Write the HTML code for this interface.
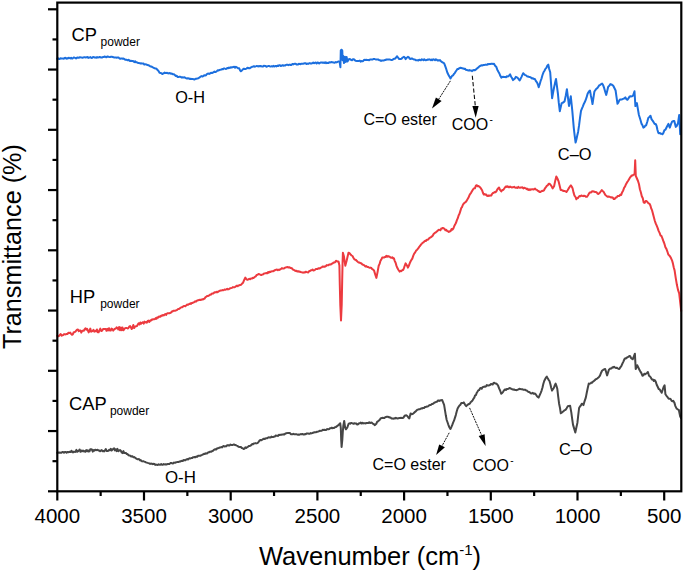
<!DOCTYPE html>
<html><head><meta charset="utf-8"><style>
html,body{margin:0;padding:0;background:#fff;}
svg{display:block;}
</style></head><body>
<svg width="685" height="572" viewBox="0 0 685 572">
<rect width="685" height="572" fill="#fff"/>
<polyline points="57.3,58.7 58.1,58.3 58.9,59.0 59.7,58.9 60.5,58.3 61.4,58.5 62.2,58.4 63.0,58.6 63.8,58.7 64.6,57.9 65.4,57.8 66.2,58.7 67.0,58.2 67.8,58.5 68.7,57.7 69.5,58.1 70.3,58.4 71.1,57.8 71.9,58.6 72.7,58.5 73.5,57.5 74.3,57.5 75.2,58.0 76.0,58.4 76.8,57.7 77.6,57.5 78.4,57.8 79.2,57.7 80.0,57.2 80.8,57.4 81.7,57.6 82.5,57.7 83.3,57.4 84.1,57.3 84.9,57.3 85.7,57.5 86.6,57.3 87.4,57.0 88.2,57.9 89.0,57.5 89.8,57.6 90.6,57.1 91.4,57.9 92.3,57.8 93.1,56.9 93.9,57.1 94.7,57.5 95.5,57.5 96.3,57.7 97.1,57.1 98.0,57.6 98.8,57.4 99.6,56.9 100.4,57.2 101.2,57.5 102.0,57.5 102.8,57.1 103.7,57.1 104.5,56.5 105.3,56.7 106.1,57.3 106.9,56.8 107.7,56.5 108.6,56.9 109.4,57.1 110.2,57.0 111.0,56.8 111.8,56.8 112.7,57.0 113.5,57.2 114.3,57.6 115.2,57.5 116.0,57.5 116.8,57.7 117.7,57.4 118.5,57.5 119.4,58.4 120.2,58.8 121.0,58.5 121.9,58.4 122.7,58.7 123.5,58.5 124.4,59.1 125.2,59.8 126.0,59.8 126.8,59.8 127.7,60.3 128.5,59.8 129.3,60.4 130.2,61.1 131.0,60.8 131.8,60.9 132.7,60.9 133.5,61.4 134.3,62.1 135.1,61.2 136.0,62.3 136.8,62.2 137.6,62.8 138.5,63.1 139.3,63.1 140.1,63.4 140.9,63.3 141.8,63.6 142.6,63.6 143.4,63.4 144.3,64.5 145.1,64.4 145.9,64.2 146.7,64.8 147.6,65.0 148.4,65.2 150.0,66.2 150.9,66.4 151.9,66.8 152.9,67.4 153.8,67.8 154.7,68.3 155.7,68.6 156.6,68.8 157.6,70.1 158.5,70.9 159.5,72.8 160.4,72.9 161.4,73.2 162.3,74.0 163.5,73.4 164.7,72.6 165.5,73.1 166.3,73.1 167.1,72.8 168.0,73.3 169.0,73.4 169.9,73.0 170.9,73.7 171.8,73.5 172.8,74.3 173.7,74.2 174.7,74.8 175.6,75.9 176.6,75.7 177.5,76.9 178.5,77.0 179.4,76.8 180.4,76.7 181.4,77.4 182.3,77.3 183.2,77.4 184.2,77.3 185.1,77.6 186.1,78.3 187.0,78.5 187.9,78.2 188.9,78.4 189.8,79.0 190.8,78.8 191.7,78.9 192.7,78.9 193.6,79.3 194.6,79.5 195.6,78.7 196.5,78.7 197.4,78.4 198.4,78.2 200.0,77.1 200.8,76.4 201.7,76.1 202.6,76.6 203.4,75.9 204.2,75.2 205.1,75.4 205.9,75.3 206.8,74.1 207.6,73.8 208.5,73.6 209.3,73.9 210.2,73.4 211.0,72.7 211.9,73.0 212.8,72.7 213.6,72.2 214.4,71.6 215.3,72.1 216.2,71.6 217.0,71.0 217.8,70.3 218.7,70.5 219.6,69.9 220.4,69.7 221.3,69.6 222.1,69.1 223.0,69.2 223.8,68.4 224.7,68.5 225.6,69.0 226.4,68.7 227.3,67.9 228.1,68.3 229.0,67.5 229.8,68.0 230.7,67.3 231.6,67.6 232.4,67.2 233.3,67.0 234.2,66.8 235.1,67.7 235.9,66.8 236.8,67.3 238.0,68.2 239.2,68.3 240.1,70.3 240.9,71.3 241.9,70.4 242.9,69.3 243.9,68.7 245.0,68.9 245.8,68.9 246.6,68.6 247.4,67.7 249.0,68.3 249.8,68.2 250.6,67.6 251.5,67.1 252.3,66.8 253.1,66.6 253.9,66.2 254.7,66.7 255.6,66.4 256.4,66.1 257.2,66.0 258.0,66.5 258.8,66.1 259.7,66.3 260.5,66.0 261.3,66.2 262.2,66.6 263.0,66.6 263.9,65.7 264.7,65.9 265.6,66.0 266.4,66.7 267.2,66.5 268.1,66.0 268.9,65.9 269.8,66.4 270.6,66.6 271.5,66.2 272.4,66.6 273.2,65.9 274.1,66.5 274.9,66.2 275.8,65.9 276.6,66.4 277.4,65.6 278.3,66.0 279.1,65.3 280.0,65.3 280.8,66.1 281.7,65.6 282.5,65.2 283.3,65.7 284.2,65.4 285.0,65.6 285.8,65.0 286.6,64.8 287.4,64.7 288.3,65.2 289.1,64.8 289.9,64.6 290.7,65.0 291.5,64.9 292.4,64.0 293.2,64.4 294.0,63.9 294.8,63.8 295.6,63.8 296.5,64.6 297.3,64.4 298.1,64.4 298.9,63.8 299.7,64.1 300.6,64.2 301.4,63.7 302.2,63.8 303.1,63.8 303.9,63.4 304.8,63.2 305.6,63.3 306.4,64.0 307.3,63.6 308.1,63.9 309.0,63.4 309.8,63.1 310.7,63.6 311.5,63.6 312.4,63.2 313.2,62.6 314.1,63.3 314.9,62.7 315.8,62.6 316.6,63.5 317.5,62.5 318.4,62.7 319.2,63.5 320.1,62.8 320.9,62.4 321.8,62.5 322.6,62.8 323.4,62.5 324.2,63.0 325.1,62.3 325.9,63.1 326.7,62.5 327.5,63.1 328.4,63.0 329.2,62.3 330.0,62.5 331.1,62.1 332.3,62.2 333.5,62.5 334.7,62.8 335.7,62.1 336.6,62.4 337.6,61.9 338.6,61.4 339.6,61.9 340.4,67.2 340.8,50.3 341.7,49.7 342.3,50.8 342.6,60.2 343.1,55.8 344.0,63.1 344.9,56.7 345.8,61.9 346.6,57.0 347.5,61.6 348.7,59.3 349.9,59.1 351.0,59.9 352.0,60.2 352.9,59.3 353.9,59.3 354.8,60.2 355.7,60.8 356.9,60.9 358.0,61.1 358.9,60.9 359.8,60.6 360.6,61.6 361.5,61.1 362.4,61.3 363.2,61.0 364.1,59.8 365.0,59.9 366.2,59.7 367.4,60.1 368.3,60.0 369.1,60.2 370.0,59.4 370.9,59.4 371.9,59.5 372.8,59.4 373.8,58.9 374.7,59.1 375.6,59.4 376.5,59.4 377.5,59.5 378.4,59.6 379.3,60.3 380.2,60.2 381.1,60.9 381.9,60.5 382.8,60.6 383.7,60.5 384.6,60.1 385.5,60.1 386.4,59.4 387.3,59.4 388.2,59.4 389.2,59.5 390.1,59.6 391.0,59.9 391.8,60.0 392.6,59.8 393.5,59.0 394.3,58.8 395.1,58.7 396.1,57.5 397.1,56.2 398.1,57.7 399.2,59.1 400.4,59.0 401.5,58.7 402.7,57.5 403.9,56.8 404.8,57.5 405.6,59.1 406.8,57.7 408.0,56.8 408.9,57.3 409.7,58.7 410.6,58.9 411.4,58.5 412.3,58.6 413.2,59.1 414.1,59.5 414.9,59.5 415.8,60.3 416.7,60.3 417.5,60.2 418.4,60.5 419.2,59.7 420.1,60.0 420.9,60.2 421.8,59.3 422.6,59.7 423.4,60.2 424.3,59.3 425.1,60.0 425.9,60.2 426.7,60.1 427.6,59.5 428.4,59.7 429.2,59.3 430.1,59.7 430.9,60.2 431.7,59.5 432.5,60.1 433.4,59.3 434.2,59.7 435.0,60.2 435.9,59.3 436.7,59.7 437.5,60.4 438.3,60.3 439.2,60.5 440.0,60.1 440.9,61.2 441.8,61.9 442.6,62.5 443.5,62.7 444.4,63.8 445.4,66.6 446.3,69.2 447.3,72.5 448.4,74.7 449.4,76.6 450.5,78.4 451.4,77.0 452.2,75.7 453.0,75.6 453.9,74.0 454.8,73.1 455.7,71.5 456.6,70.2 457.5,68.9 458.5,68.9 459.4,68.1 460.4,67.8 461.3,68.0 462.2,68.2 463.2,68.4 464.1,68.9 465.0,68.7 465.9,69.8 466.8,69.9 467.7,70.3 468.6,70.5 469.5,70.1 470.3,70.6 471.2,70.5 472.1,71.1 473.0,70.3 474.0,70.1 474.9,70.3 475.8,69.6 476.7,68.7 477.6,67.9 478.5,67.3 479.4,66.4 480.3,65.8 481.2,65.3 482.0,65.5 482.9,65.2 483.8,64.9 484.6,64.9 485.5,64.6 486.3,64.8 487.1,64.7 487.9,64.0 488.8,64.2 489.6,64.1 490.5,64.0 491.4,63.7 492.2,63.8 493.1,63.9 494.0,63.8 495.1,65.7 496.2,66.7 497.3,69.7 498.4,71.8 499.4,73.5 500.3,75.8 501.3,77.6 502.2,76.9 503.1,76.8 504.1,77.1 505.0,76.9 506.0,77.2 506.9,76.3 507.9,76.6 509.0,75.7 510.1,74.3 511.1,76.7 512.0,78.0 513.0,80.1 514.0,79.2 514.9,78.4 515.9,76.9 517.4,77.6 518.5,78.9 519.6,80.5 520.5,78.9 521.4,77.1 522.3,75.1 523.2,73.2 524.2,74.3 525.1,75.1 526.1,75.4 527.1,76.4 528.0,76.5 529.0,76.9 530.0,77.0 531.0,77.6 532.0,78.4 533.0,78.3 533.9,78.9 534.9,79.1 536.0,81.2 537.1,82.7 537.9,84.5 538.7,87.3 539.7,84.3 540.6,81.0 541.6,78.3 542.5,75.0 543.5,72.3 544.5,70.8 545.4,68.9 546.4,67.9 547.3,65.6 548.3,64.6 549.2,69.0 550.2,72.3 551.2,85.6 552.1,98.3 553.0,93.1 554.0,87.7 555.0,83.1 556.0,79.0 557.0,86.7 557.9,93.5 558.8,102.9 559.8,111.2 560.8,106.8 561.7,103.1 562.7,102.8 563.6,102.2 564.6,101.2 565.8,95.4 566.9,89.2 568.0,97.8 569.0,106.0 569.9,101.1 570.8,96.3 572.3,110.8 573.8,128.1 574.7,135.8 575.6,142.5 576.4,139.5 577.3,135.3 578.1,131.9 579.1,125.2 580.0,117.8 581.0,110.8 582.0,108.3 582.9,106.3 583.8,103.9 584.8,102.1 585.8,99.7 586.7,96.9 587.7,93.5 588.9,91.6 590.0,90.6 590.8,95.2 591.7,99.4 592.5,104.0 593.5,97.3 594.4,91.5 595.4,90.1 596.3,88.8 597.3,88.2 598.3,86.7 599.2,85.4 600.2,84.8 601.1,84.2 602.1,83.5 603.2,85.3 604.2,88.2 605.2,91.7 606.2,94.9 607.2,90.9 608.2,86.7 609.3,85.8 610.4,84.1 611.4,84.4 612.4,85.1 613.4,86.0 614.5,88.3 615.6,90.5 616.5,96.9 617.5,103.8 618.4,102.4 619.2,100.6 620.1,99.4 621.1,99.4 622.0,99.4 623.0,98.9 624.1,98.5 625.3,97.4 626.4,99.1 627.5,99.8 628.6,98.1 629.7,96.4 630.5,96.2 631.4,96.4 632.2,96.2 633.0,95.7 634.5,91.2 635.4,106.1 636.9,103.1 637.9,109.1 638.9,115.0 639.8,117.8 640.7,120.7 641.6,123.9 642.5,125.3 643.4,127.6 644.3,127.2 645.2,125.7 646.1,125.4 647.2,122.0 648.3,118.0 649.4,116.9 650.5,115.7 651.6,119.4 652.8,120.9 653.8,122.5 654.7,124.0 655.7,123.9 656.6,126.0 657.4,129.8 658.3,132.8 659.1,133.3 659.9,132.9 660.8,133.7 661.6,133.7 662.4,134.3 663.4,132.9 664.4,130.1 665.4,129.8 666.4,127.7 667.4,125.7 668.4,123.9 669.8,127.6 671.0,124.2 672.1,121.7 673.2,121.1 674.3,120.9 675.8,126.9 676.9,125.7 678.0,123.2 679.2,115.0 680.2,134.3" fill="none" stroke="#1c6fde" stroke-width="2" stroke-linejoin="round" stroke-linecap="round"/>
<polyline points="57.3,335.8 58.2,336.2 59.0,336.0 59.9,334.7 60.7,334.1 61.6,335.7 62.4,335.3 63.3,335.0 64.1,334.0 65.0,334.5 65.8,334.3 66.7,333.9 67.6,333.9 68.5,332.7 69.3,333.1 70.2,332.6 71.1,333.8 72.0,334.8 72.8,334.4 73.7,332.2 74.5,332.2 75.4,331.7 76.2,330.7 77.1,329.6 77.9,329.4 78.8,331.2 79.6,330.4 80.5,330.5 81.3,332.6 82.2,330.9 83.0,330.6 83.8,330.8 84.6,329.3 85.4,328.3 86.2,329.6 87.0,328.7 87.8,330.3 88.7,332.4 89.5,330.9 90.3,328.6 91.1,331.7 91.9,331.2 92.7,330.9 93.5,329.8 94.3,331.7 95.2,331.1 96.0,331.3 96.9,329.5 97.7,332.3 98.6,332.3 99.4,330.4 100.3,328.6 101.2,331.0 102.2,330.5 103.1,329.1 104.0,329.0 104.8,329.1 105.7,328.9 106.5,330.8 107.3,328.9 108.2,330.4 109.0,328.2 109.8,330.5 110.7,330.6 111.5,328.6 112.4,329.1 113.2,330.6 114.0,329.7 114.9,328.7 115.7,328.7 116.6,327.4 117.4,327.8 118.3,329.4 119.1,327.0 120.0,330.3 120.8,327.4 121.7,330.2 122.5,327.5 123.4,330.3 124.2,329.2 125.1,328.2 125.9,328.1 126.8,328.0 127.6,328.5 128.4,328.1 129.2,326.7 130.1,326.1 130.9,327.3 131.7,329.0 132.5,327.5 133.3,325.0 134.2,328.1 135.0,326.6 136.0,326.3 137.0,326.0 138.0,324.2 138.8,323.2 139.6,324.4 140.4,322.5 141.2,323.7 142.1,322.6 142.9,322.3 143.7,323.6 144.5,321.6 145.3,322.4 146.1,322.1 146.9,322.7 147.7,320.9 148.5,320.6 149.3,321.9 150.1,320.6 150.9,320.7 151.7,319.6 152.5,319.7 153.3,319.2 154.1,319.3 154.9,319.1 155.7,318.1 156.5,318.8 157.3,317.3 158.1,317.8 158.9,316.6 159.7,316.5 160.5,316.8 161.3,315.6 162.1,315.7 162.9,315.0 163.7,315.4 164.5,314.7 165.3,314.0 166.1,314.9 166.9,313.6 167.7,313.2 168.5,313.3 169.3,313.3 170.1,312.9 170.9,312.8 171.7,311.6 172.5,311.5 173.3,310.7 174.1,310.8 175.0,310.8 175.8,310.4 176.6,310.2 177.4,309.6 178.2,308.9 179.0,309.0 179.8,308.4 180.6,307.8 181.4,307.2 182.2,307.3 183.0,306.6 183.8,306.0 184.6,306.0 185.4,306.2 186.2,305.4 187.0,304.6 187.8,304.9 188.6,304.3 189.4,304.1 190.2,303.4 191.0,304.0 191.8,302.9 192.6,303.0 193.4,302.4 194.2,302.2 195.0,301.3 195.8,301.7 196.6,300.9 197.4,300.5 198.2,300.2 199.1,300.1 199.9,299.7 200.7,300.0 201.5,299.6 202.3,299.3 203.1,299.4 203.9,298.9 204.7,298.5 205.5,297.1 206.3,296.8 207.1,296.1 207.9,296.0 208.7,295.6 209.5,295.3 210.3,294.5 211.1,294.5 211.9,293.6 212.7,293.5 213.5,293.4 214.3,292.5 215.1,292.2 215.9,292.4 216.7,291.7 217.5,292.2 218.3,291.6 219.1,291.1 219.9,290.7 220.7,290.5 221.5,290.4 222.4,290.1 223.2,290.2 224.0,289.9 224.8,289.5 225.6,289.7 226.4,289.3 227.2,288.7 228.0,289.4 228.8,289.2 229.6,288.7 230.4,288.2 231.2,288.1 232.0,287.9 232.8,287.1 233.6,287.3 234.4,287.2 235.2,286.9 236.1,286.2 236.9,285.7 237.7,286.2 238.5,285.4 239.4,285.3 240.2,284.9 241.2,284.7 242.1,283.6 243.1,282.7 244.2,279.9 245.3,277.6 246.4,279.3 247.5,279.8 248.4,279.4 249.3,278.7 250.1,279.3 251.0,278.4 251.9,278.6 252.9,277.8 253.8,277.9 254.8,276.9 255.7,276.4 256.6,274.9 257.6,274.7 258.5,274.0 259.5,274.3 260.4,274.7 261.4,275.1 262.2,274.4 263.1,274.5 263.9,273.5 264.8,273.4 265.6,273.2 266.5,273.0 267.3,273.3 268.1,272.0 268.9,272.6 269.7,271.7 270.6,271.9 271.4,271.4 272.2,271.2 273.0,271.3 273.8,270.8 274.6,270.5 275.4,269.9 276.2,269.7 277.0,269.5 277.9,270.2 278.7,269.7 279.5,269.9 280.3,269.3 281.1,268.9 281.9,268.1 282.8,268.6 283.6,268.5 284.4,268.2 285.2,267.7 286.1,267.3 286.9,267.2 287.7,267.0 288.6,267.6 289.5,267.3 290.4,267.9 291.3,268.1 292.1,268.5 293.0,269.6 293.8,269.9 294.7,270.5 295.5,270.9 296.4,270.7 297.2,271.4 298.1,271.2 298.9,271.7 299.8,271.6 300.6,272.0 301.5,272.2 302.3,272.4 303.2,272.7 304.0,272.3 304.9,272.6 305.7,271.7 306.6,272.0 307.4,272.2 308.3,272.4 309.2,271.0 310.0,271.0 310.9,270.2 311.8,270.3 312.6,269.6 313.5,270.4 314.3,270.3 315.1,269.7 315.9,268.9 316.8,268.9 317.6,268.9 318.4,268.3 319.3,268.5 320.1,268.2 320.9,267.6 321.7,267.4 322.6,266.5 323.4,266.7 324.2,266.5 325.0,266.7 325.9,266.2 326.7,265.1 327.5,265.3 328.4,265.3 329.2,264.5 330.0,264.5 330.8,264.6 331.6,263.7 332.5,263.5 333.3,262.8 334.1,262.5 335.1,262.2 336.2,260.7 337.2,261.4 338.3,261.5 338.6,261.8 339.4,265.5 339.8,285.0 340.3,305.0 341.0,320.5 341.7,305.0 342.2,280.0 342.6,262.0 342.9,252.7 343.9,256.2 345.3,265.7 346.7,260.4 347.6,256.6 348.5,252.7 349.5,253.2 350.6,254.5 351.6,255.5 352.5,256.0 353.4,257.7 354.2,259.1 355.1,259.7 356.0,260.0 356.9,261.1 357.7,261.8 358.6,262.5 359.5,262.6 360.5,263.2 361.4,263.2 362.2,264.4 363.0,264.7 363.9,265.1 364.7,265.8 365.5,266.6 366.4,266.1 367.2,266.9 368.0,267.0 368.8,267.4 369.7,267.8 370.5,267.6 371.4,268.0 372.2,269.1 373.1,269.6 374.0,270.4 375.2,274.4 376.4,277.9 377.5,272.4 378.7,265.8 379.6,263.9 380.4,261.1 381.3,259.6 382.2,257.6 383.0,257.6 383.9,257.6 384.7,257.1 385.5,257.1 386.3,255.9 387.2,256.8 388.0,256.0 388.8,256.6 389.7,256.8 390.5,257.5 391.4,257.8 392.2,257.2 393.1,258.4 393.9,258.3 394.8,261.1 395.6,262.8 396.5,265.9 397.4,268.1 398.5,270.0 399.7,271.6 400.6,270.8 401.4,271.2 402.3,270.0 403.2,270.0 404.0,267.9 404.8,265.5 405.6,263.4 406.8,265.2 407.9,267.6 408.8,265.8 409.6,263.7 410.5,261.5 411.4,259.9 412.3,258.6 413.3,255.7 414.2,253.7 415.2,252.4 416.1,250.6 416.9,250.0 417.8,248.8 418.6,247.9 419.4,246.6 420.2,245.8 421.1,244.4 421.9,243.6 422.7,242.7 423.5,242.4 424.4,241.3 425.2,240.7 426.0,241.0 426.8,239.7 427.6,239.8 428.5,239.2 429.3,238.2 430.1,237.7 431.0,237.1 431.9,236.4 432.7,235.7 433.6,234.0 434.5,233.2 435.4,232.7 436.2,232.0 437.1,231.2 437.9,230.5 438.8,229.7 439.6,229.9 440.4,230.2 441.2,228.6 442.1,228.4 442.9,227.9 443.7,228.3 444.6,228.9 445.4,230.3 446.3,229.8 447.1,231.0 448.0,231.3 448.8,231.9 449.7,231.3 450.6,231.2 451.6,229.0 452.5,229.7 453.4,228.4 454.3,226.0 455.1,224.6 456.0,222.8 456.9,220.2 457.8,218.2 458.6,215.4 459.5,213.8 460.4,210.9 461.2,208.2 462.0,207.2 462.8,205.0 463.7,203.6 464.7,202.7 465.6,202.2 466.6,200.9 467.5,199.2 468.4,197.8 469.3,195.6 470.3,193.8 471.2,192.6 472.1,191.0 473.0,189.4 474.0,188.3 474.9,188.3 475.9,185.7 476.8,185.2 477.7,186.3 478.6,186.1 479.4,186.7 480.3,187.5 481.2,188.9 482.1,190.2 482.9,192.7 483.8,194.5 484.6,194.1 485.5,194.7 486.3,194.6 487.1,195.9 487.9,196.1 488.8,195.4 489.6,195.7 490.4,195.5 491.3,195.5 492.1,193.9 493.0,193.0 493.8,192.7 494.7,192.1 495.5,192.2 496.4,191.3 497.2,189.6 498.1,188.4 499.0,187.5 500.1,190.0 501.3,191.5 502.2,190.0 503.2,190.0 504.1,188.7 505.1,187.2 506.0,186.4 506.8,187.0 507.6,186.2 508.5,187.2 509.3,187.3 510.1,186.6 510.9,187.0 511.7,187.5 512.6,187.2 513.4,187.2 514.2,186.8 515.0,187.6 515.8,187.8 516.7,187.5 517.5,188.0 518.3,186.9 519.1,187.6 520.0,187.8 520.8,187.4 521.6,187.5 522.4,187.3 523.3,188.4 524.1,187.7 524.9,188.0 525.8,188.3 526.6,189.2 527.5,188.7 528.3,190.0 529.1,189.3 530.0,190.1 530.9,189.3 531.7,189.4 532.5,189.2 533.4,189.6 534.2,189.3 535.1,188.6 536.0,189.6 536.9,189.9 537.7,190.7 538.6,191.0 539.5,192.0 540.4,192.1 541.3,191.3 542.1,190.8 543.0,191.0 543.9,190.5 545.0,188.3 546.1,186.9 547.0,185.6 547.8,185.3 548.7,183.7 549.5,183.7 550.4,184.7 551.5,186.1 552.6,188.4 554.1,186.2 555.2,180.9 556.3,176.4 557.4,178.5 558.5,181.1 559.6,185.5 560.7,190.1 561.7,190.1 562.6,190.5 563.6,191.0 564.6,191.0 565.5,191.4 566.5,192.0 567.6,190.3 568.7,188.4 569.8,186.7 570.9,185.4 571.8,186.7 572.6,188.4 573.5,192.4 574.5,195.7 575.5,197.0 576.4,199.3 577.2,198.0 578.0,198.1 578.8,196.7 579.6,196.0 580.5,196.3 581.4,195.4 582.2,195.8 583.1,196.2 584.0,195.7 585.0,195.9 585.9,196.8 586.9,196.8 587.9,195.5 588.9,193.7 589.9,192.4 590.9,192.6 591.8,191.5 592.8,191.3 593.8,191.5 594.7,191.9 595.7,192.0 596.7,192.4 597.6,193.7 598.6,193.9 599.7,192.8 600.7,191.5 601.8,190.1 602.8,191.1 603.7,192.0 604.7,193.9 605.6,195.3 606.6,196.0 607.5,196.7 608.5,196.5 609.4,196.7 610.3,197.1 611.2,197.5 612.1,197.3 612.9,197.7 613.8,199.1 614.7,198.9 615.7,197.5 616.6,197.5 617.6,196.0 618.5,195.9 619.4,195.9 620.3,194.7 621.2,194.9 622.2,192.2 623.2,190.4 624.2,187.6 625.0,186.7 626.0,184.2 627.0,182.4 628.0,181.0 628.9,179.4 629.9,177.7 630.8,176.6 631.7,175.5 632.6,175.5 633.5,174.6 634.6,174.2 635.2,160.2 635.8,176.0 636.5,177.5 638.0,181.0 639.0,184.3 639.9,189.2 640.9,192.5 641.8,196.2 642.8,198.3 643.7,202.6 644.7,202.9 645.6,201.1 646.6,201.1 647.5,202.2 648.5,203.4 649.5,203.7 650.4,205.5 651.2,208.4 652.1,210.4 652.9,213.5 653.8,217.0 654.8,220.7 655.7,223.4 656.7,225.7 657.7,228.1 658.6,230.9 659.6,232.9 660.6,235.6 661.5,236.0 662.5,238.6 663.5,241.5 664.4,243.7 665.4,247.3 666.4,248.9 667.3,251.3 668.3,254.5 669.2,255.4 670.1,256.5 671.1,258.3 672.0,260.3 672.9,263.4 673.7,267.3 674.6,270.4 675.8,278.3 676.9,284.8 678.0,289.9 679.2,293.4 680.2,302.5 681.2,310.8" fill="none" stroke="#ec3a3f" stroke-width="2" stroke-linejoin="round" stroke-linecap="round"/>
<polyline points="57.3,452.9 58.1,452.5 59.0,452.8 59.8,452.5 60.6,452.7 61.5,452.7 62.3,452.0 63.1,451.9 64.0,452.7 64.8,452.0 65.7,451.9 66.5,452.7 67.3,452.0 68.2,452.3 69.0,451.9 69.8,451.8 70.6,452.1 71.5,450.7 72.3,451.9 73.1,452.5 73.9,451.5 74.8,452.0 75.6,451.7 76.4,449.9 77.2,451.8 78.1,451.2 78.9,450.4 79.7,449.5 80.5,451.8 81.4,450.6 82.2,451.2 83.0,450.5 83.8,451.5 84.6,451.1 85.4,451.6 86.3,450.1 87.1,451.3 87.9,450.2 88.7,451.6 89.5,451.4 90.3,449.2 91.1,449.3 91.9,449.5 92.8,451.6 93.6,450.1 94.4,450.6 95.2,449.7 96.0,450.2 96.8,449.9 97.6,449.8 98.4,450.4 99.3,450.4 100.1,451.3 100.9,450.6 101.7,450.1 102.5,451.3 103.3,451.0 104.2,451.4 105.0,450.4 105.8,449.0 106.6,450.9 107.5,451.1 108.3,450.9 109.1,449.9 109.9,450.3 110.8,448.8 111.6,450.5 112.4,449.8 113.2,448.9 114.1,448.3 114.9,450.4 115.7,449.4 116.6,451.1 117.4,448.9 118.3,451.2 119.1,450.5 120.0,450.1 120.8,450.8 121.7,452.4 122.5,453.1 123.4,451.1 124.2,453.0 125.1,453.0 125.9,452.9 126.8,454.1 127.6,454.1 128.4,455.1 129.3,455.6 130.1,455.5 130.9,456.5 131.8,456.2 132.6,456.3 133.5,457.3 134.3,457.1 135.1,457.7 136.0,458.4 136.8,458.9 137.6,459.3 138.5,459.1 139.3,459.3 140.1,460.5 140.9,460.2 141.8,461.2 142.6,461.4 143.4,461.2 144.3,461.6 145.1,461.9 145.9,462.4 146.7,462.6 147.6,462.9 148.4,463.1 149.3,463.4 150.1,463.9 151.0,463.6 151.8,463.7 152.7,464.2 153.5,463.8 154.4,464.0 155.2,464.9 156.1,464.6 156.9,464.8 157.8,464.9 158.6,464.3 159.5,464.7 160.3,464.8 161.2,464.1 162.0,464.7 162.9,464.7 163.7,464.0 164.6,464.5 165.4,464.3 166.3,464.5 167.1,464.2 167.9,463.9 168.8,464.1 169.6,464.0 170.4,463.0 171.3,462.9 172.1,463.4 172.9,463.6 173.8,462.6 174.6,462.7 175.5,462.7 176.3,462.2 177.1,462.1 178.0,461.9 178.8,461.9 179.6,461.5 180.5,461.5 181.3,460.9 182.1,460.8 183.0,460.9 183.8,459.9 184.7,460.2 185.5,460.2 186.3,459.4 187.2,459.1 188.0,459.5 188.8,458.6 189.7,458.3 190.5,458.4 191.3,458.1 192.2,458.1 193.0,457.2 193.8,457.2 194.7,457.0 195.5,457.3 196.3,456.6 197.2,456.8 198.0,455.8 198.9,455.7 199.7,455.8 200.5,455.8 201.4,455.1 202.2,454.9 203.1,454.3 204.0,453.8 204.9,453.9 205.8,453.2 206.6,453.5 207.5,453.2 208.4,452.2 209.3,452.2 210.2,451.6 211.0,451.8 211.9,451.2 212.7,451.0 213.6,450.1 214.4,449.5 215.3,449.3 216.1,449.5 217.0,448.5 217.8,448.2 218.7,448.0 219.5,447.6 220.4,447.4 221.2,447.1 222.1,447.4 222.9,446.3 223.8,445.9 224.6,446.6 225.5,446.3 226.3,446.2 227.2,445.3 228.0,445.1 228.8,445.5 229.7,445.4 230.5,444.5 231.4,445.0 232.2,445.0 233.1,444.7 233.9,444.4 234.8,444.9 235.7,445.1 236.7,445.6 237.6,445.9 238.5,446.7 240.0,447.0 240.9,447.0 241.8,448.0 242.7,448.2 243.6,448.9 244.5,448.8 245.3,447.4 246.2,447.9 247.1,447.2 247.9,446.9 248.8,446.0 249.6,446.1 250.5,445.7 251.3,445.0 252.1,444.0 252.9,444.4 253.8,443.4 254.6,443.4 255.6,443.1 256.5,443.4 257.5,443.1 258.6,441.8 259.7,440.4 260.5,440.0 261.4,440.3 262.2,439.7 263.0,439.1 263.8,438.8 264.6,439.1 265.5,438.4 266.3,438.2 267.2,438.3 268.0,437.6 268.9,437.3 269.7,437.4 270.6,437.5 271.4,436.6 272.2,437.1 273.1,437.1 273.9,436.7 274.8,436.6 275.6,435.5 276.5,435.8 277.3,435.8 278.1,435.9 278.9,434.8 279.7,434.9 280.6,434.7 281.4,434.8 282.2,434.5 283.0,434.4 283.8,434.3 284.6,434.4 285.5,433.4 286.4,433.2 287.2,433.1 288.0,432.9 288.9,433.1 289.8,432.9 290.8,434.2 291.7,434.3 292.6,434.2 293.4,433.8 294.3,434.3 295.1,434.2 295.9,434.2 296.7,434.3 297.6,434.7 298.4,434.6 299.2,434.7 300.0,434.4 300.8,434.1 301.6,434.2 302.5,434.0 303.3,434.4 304.1,434.5 304.9,434.1 305.7,434.2 306.5,433.6 307.3,433.5 308.1,433.6 308.9,433.7 309.8,433.7 310.6,433.1 311.4,433.4 312.2,433.1 313.0,432.8 313.8,432.5 314.6,432.2 315.4,432.2 316.2,432.2 317.1,431.7 317.9,431.7 318.7,431.3 319.5,430.8 320.3,430.9 321.1,430.7 321.9,430.7 322.7,429.8 323.5,430.0 324.4,429.8 325.2,430.1 326.0,430.0 326.8,429.2 327.6,429.1 328.4,429.3 329.2,429.0 330.0,428.2 330.8,428.3 331.7,427.7 332.5,428.2 333.3,427.9 334.1,427.9 334.9,427.3 335.8,427.1 336.7,426.4 337.6,425.7 338.5,425.1 339.3,424.1 340.2,423.2 340.8,428.0 341.2,440.0 341.6,447.0 342.3,440.0 342.8,432.0 343.3,426.0 344.2,421.0 345.1,427.3 345.9,429.3 347.4,427.3 348.6,423.8 349.4,423.3 350.2,423.7 351.0,423.0 351.8,423.1 352.6,423.4 353.5,423.8 354.4,423.2 355.4,423.4 356.3,423.5 357.2,424.5 358.1,424.2 359.1,423.3 360.0,423.2 360.8,422.6 361.6,423.5 362.5,422.7 363.3,423.4 364.1,423.2 365.0,423.3 365.8,423.4 366.6,422.9 367.5,422.9 368.3,423.1 369.2,422.2 370.1,423.0 370.9,422.7 371.8,422.6 372.8,423.7 373.7,423.9 374.7,425.2 375.5,424.5 376.3,423.8 377.1,421.9 378.0,421.3 378.8,420.6 379.6,420.0 380.4,418.7 381.2,418.2 382.0,417.9 382.8,417.8 383.6,417.9 384.4,417.9 385.2,417.2 386.0,417.0 386.8,416.8 387.6,416.7 388.6,417.0 389.6,417.5 390.5,417.5 391.5,418.4 392.4,418.4 393.3,418.8 394.1,418.2 395.0,418.5 395.9,417.8 396.8,418.3 397.6,418.4 398.5,418.2 399.4,418.0 400.2,417.9 401.0,417.8 401.8,417.9 402.6,418.1 403.4,417.6 404.4,416.1 405.3,415.4 406.3,415.3 407.3,416.0 408.3,417.5 409.3,418.4 410.6,413.4 411.6,414.2 412.6,414.1 413.6,413.2 414.6,412.2 415.5,411.6 416.5,410.5 417.3,409.8 418.1,409.6 419.0,409.2 419.8,409.3 420.6,408.7 421.5,408.3 422.3,408.4 423.1,407.9 424.0,408.1 424.9,407.0 425.7,407.1 426.6,406.5 427.5,406.6 428.4,406.0 429.2,405.3 430.1,404.9 431.0,404.9 431.9,403.9 432.7,403.9 433.6,403.3 434.5,402.6 435.3,402.3 436.2,401.8 437.1,401.8 437.9,400.6 438.8,400.5 439.6,400.9 440.5,400.2 441.3,400.2 442.1,400.0 443.1,402.4 444.1,404.9 445.0,410.3 445.8,415.3 446.7,420.0 447.6,422.5 448.4,424.8 449.3,427.2 450.4,429.0 451.3,427.2 452.2,425.2 453.1,422.7 454.0,420.7 454.9,417.9 455.8,415.1 456.7,411.5 457.6,408.5 458.5,406.9 459.5,405.5 460.4,404.7 461.3,403.1 462.1,403.1 463.0,403.1 463.8,402.4 465.0,404.6 466.2,406.1 467.1,405.2 468.0,404.5 469.0,404.0 469.9,403.6 470.8,402.0 471.7,401.4 472.6,400.3 473.5,398.7 474.3,397.7 475.1,395.4 475.9,395.1 476.8,392.7 477.6,391.5 478.4,390.2 479.2,390.1 480.0,388.4 480.9,387.9 481.7,388.7 482.5,387.2 483.3,387.0 484.2,386.5 485.0,386.7 485.9,386.6 486.8,385.1 487.7,385.5 488.5,385.4 489.4,385.3 490.2,384.9 491.0,383.9 491.9,384.2 492.7,384.5 493.5,383.0 494.3,382.8 495.2,383.5 496.1,383.4 497.1,384.3 498.0,385.3 499.1,388.4 500.1,390.5 501.2,393.8 502.2,393.0 503.1,391.8 504.1,390.2 505.0,389.4 505.9,390.0 506.8,389.0 507.7,389.1 508.6,388.7 509.5,388.1 510.4,388.2 511.3,388.9 512.2,389.2 513.1,389.7 514.0,389.4 514.9,390.0 515.8,390.1 516.7,390.2 517.6,389.7 518.5,389.4 519.4,388.8 520.3,389.1 521.2,389.2 522.2,389.2 523.1,389.7 524.1,389.8 525.0,389.7 525.9,390.3 526.7,390.4 527.6,391.4 528.5,391.9 529.3,391.9 530.2,392.8 531.1,393.4 532.0,393.3 532.8,392.8 533.7,393.8 534.6,393.5 535.4,393.9 536.2,395.0 537.0,396.2 537.8,396.9 538.6,397.6 539.6,395.3 540.6,393.1 541.6,390.6 542.5,387.4 543.3,384.0 544.2,381.0 545.1,379.2 545.9,377.6 546.8,376.6 547.7,378.3 548.6,379.8 549.5,381.0 550.4,384.2 551.2,387.7 552.1,390.6 553.0,389.1 553.8,388.0 554.7,385.5 555.6,383.6 556.5,386.1 557.3,388.8 558.2,396.7 559.1,403.7 560.0,408.0 560.8,413.3 562.0,412.4 563.1,411.5 564.3,410.4 565.5,409.8 566.6,408.3 567.8,406.3 569.0,405.9 570.1,405.8 571.3,412.4 572.1,418.3 573.0,424.6 574.1,428.4 575.3,432.5 576.3,427.7 577.4,422.9 578.2,415.7 579.1,408.0 580.0,406.4 580.9,405.5 581.8,403.7 582.6,404.0 583.5,405.1 584.6,401.1 585.8,397.6 586.8,392.5 587.8,387.8 588.8,383.6 589.6,383.7 590.5,383.4 591.4,382.6 592.2,382.7 593.1,381.5 594.0,380.9 594.8,380.3 595.7,379.2 596.6,379.0 597.5,378.3 598.4,377.5 599.2,376.7 600.0,375.7 601.1,372.7 602.2,370.5 603.2,369.9 604.2,369.2 605.2,369.0 606.2,372.2 607.1,375.4 608.0,372.6 608.9,369.7 609.8,368.9 610.6,368.4 611.5,368.5 612.4,367.2 613.2,367.5 614.1,366.7 615.0,367.5 615.8,368.0 616.7,367.7 617.6,368.3 618.4,368.7 619.3,369.0 620.3,367.4 621.3,366.1 622.3,363.8 623.4,361.6 624.5,359.0 625.3,358.3 626.1,358.4 627.0,357.5 627.8,357.1 628.6,356.7 629.4,356.0 630.2,356.3 631.0,357.9 631.9,358.7 632.7,359.3 633.8,356.5 634.9,353.7 635.7,369.0 637.2,365.3 638.3,367.5 639.4,369.7 640.4,371.6 641.4,373.1 642.4,375.7 643.4,375.3 644.3,373.8 645.3,374.2 646.2,373.5 647.0,373.0 647.9,372.0 649.0,375.7 650.0,376.5 650.9,377.7 651.8,379.4 652.8,379.4 653.8,380.9 654.7,380.1 655.7,381.6 656.7,384.7 657.7,386.8 658.7,389.0 659.7,389.4 660.7,391.3 661.7,392.8 662.7,389.8 663.6,387.0 664.6,385.3 665.4,394.2 666.5,395.8 667.6,397.2 668.7,398.8 669.8,398.7 670.7,399.1 671.6,400.9 672.5,401.3 673.4,400.9 674.3,402.4 675.4,406.1 676.5,408.4 677.6,409.3 678.8,409.8 680.2,416.5 681.0,418.0" fill="none" stroke="#464646" stroke-width="2" stroke-linejoin="round" stroke-linecap="round"/>
<rect x="57.3" y="2.6" width="624.0" height="488.7" fill="none" stroke="#000" stroke-width="2.2"/>
<line x1="48" y1="491.30" x2="57.3" y2="491.30" stroke="#000" stroke-width="2.2"/>
<line x1="52.5" y1="461.18" x2="57.3" y2="461.18" stroke="#000" stroke-width="2.2"/>
<line x1="48" y1="431.05" x2="57.3" y2="431.05" stroke="#000" stroke-width="2.2"/>
<line x1="52.5" y1="400.93" x2="57.3" y2="400.93" stroke="#000" stroke-width="2.2"/>
<line x1="48" y1="370.80" x2="57.3" y2="370.80" stroke="#000" stroke-width="2.2"/>
<line x1="52.5" y1="340.68" x2="57.3" y2="340.68" stroke="#000" stroke-width="2.2"/>
<line x1="48" y1="310.55" x2="57.3" y2="310.55" stroke="#000" stroke-width="2.2"/>
<line x1="52.5" y1="280.43" x2="57.3" y2="280.43" stroke="#000" stroke-width="2.2"/>
<line x1="48" y1="250.30" x2="57.3" y2="250.30" stroke="#000" stroke-width="2.2"/>
<line x1="52.5" y1="220.18" x2="57.3" y2="220.18" stroke="#000" stroke-width="2.2"/>
<line x1="48" y1="190.05" x2="57.3" y2="190.05" stroke="#000" stroke-width="2.2"/>
<line x1="52.5" y1="159.93" x2="57.3" y2="159.93" stroke="#000" stroke-width="2.2"/>
<line x1="48" y1="129.80" x2="57.3" y2="129.80" stroke="#000" stroke-width="2.2"/>
<line x1="52.5" y1="99.68" x2="57.3" y2="99.68" stroke="#000" stroke-width="2.2"/>
<line x1="48" y1="69.55" x2="57.3" y2="69.55" stroke="#000" stroke-width="2.2"/>
<line x1="52.5" y1="39.43" x2="57.3" y2="39.43" stroke="#000" stroke-width="2.2"/>
<line x1="48" y1="9.30" x2="57.3" y2="9.30" stroke="#000" stroke-width="2.2"/>
<line x1="57.30" y1="491.3" x2="57.30" y2="500.5" stroke="#000" stroke-width="2.2"/>
<text x="57.30" y="523.4" font-family="Liberation Sans, sans-serif" font-size="20.5" text-anchor="middle" fill="#000">4000</text>
<line x1="100.65" y1="491.3" x2="100.65" y2="496" stroke="#000" stroke-width="2.2"/>
<line x1="144.00" y1="491.3" x2="144.00" y2="500.5" stroke="#000" stroke-width="2.2"/>
<text x="144.00" y="523.4" font-family="Liberation Sans, sans-serif" font-size="20.5" text-anchor="middle" fill="#000">3500</text>
<line x1="187.35" y1="491.3" x2="187.35" y2="496" stroke="#000" stroke-width="2.2"/>
<line x1="230.70" y1="491.3" x2="230.70" y2="500.5" stroke="#000" stroke-width="2.2"/>
<text x="230.70" y="523.4" font-family="Liberation Sans, sans-serif" font-size="20.5" text-anchor="middle" fill="#000">3000</text>
<line x1="274.05" y1="491.3" x2="274.05" y2="496" stroke="#000" stroke-width="2.2"/>
<line x1="317.40" y1="491.3" x2="317.40" y2="500.5" stroke="#000" stroke-width="2.2"/>
<text x="317.40" y="523.4" font-family="Liberation Sans, sans-serif" font-size="20.5" text-anchor="middle" fill="#000">2500</text>
<line x1="360.75" y1="491.3" x2="360.75" y2="496" stroke="#000" stroke-width="2.2"/>
<line x1="404.10" y1="491.3" x2="404.10" y2="500.5" stroke="#000" stroke-width="2.2"/>
<text x="404.10" y="523.4" font-family="Liberation Sans, sans-serif" font-size="20.5" text-anchor="middle" fill="#000">2000</text>
<line x1="447.45" y1="491.3" x2="447.45" y2="496" stroke="#000" stroke-width="2.2"/>
<line x1="490.80" y1="491.3" x2="490.80" y2="500.5" stroke="#000" stroke-width="2.2"/>
<text x="490.80" y="523.4" font-family="Liberation Sans, sans-serif" font-size="20.5" text-anchor="middle" fill="#000">1500</text>
<line x1="534.15" y1="491.3" x2="534.15" y2="496" stroke="#000" stroke-width="2.2"/>
<line x1="577.50" y1="491.3" x2="577.50" y2="500.5" stroke="#000" stroke-width="2.2"/>
<text x="577.50" y="523.4" font-family="Liberation Sans, sans-serif" font-size="20.5" text-anchor="middle" fill="#000">1000</text>
<line x1="620.85" y1="491.3" x2="620.85" y2="496" stroke="#000" stroke-width="2.2"/>
<line x1="664.20" y1="491.3" x2="664.20" y2="500.5" stroke="#000" stroke-width="2.2"/>
<text x="664.20" y="523.4" font-family="Liberation Sans, sans-serif" font-size="20.5" text-anchor="middle" fill="#000">500</text>
<text x="259" y="565" font-family="Liberation Sans, sans-serif" font-size="25.5" fill="#000">Wavenumber (cm<tspan font-size="15" dy="-10">-1</tspan><tspan dy="10">)</tspan></text>
<text transform="translate(20.5,349) rotate(-90)" x="0" y="0" font-family="Liberation Sans, sans-serif" font-size="25.2" fill="#000">Transmittance (%)</text>
<text transform="translate(71.6,41.1) scale(1.04,1)" font-family="Liberation Sans, sans-serif" font-size="17.6" fill="#000">CP</text><text x="100.6" y="46.1" font-family="Liberation Sans, sans-serif" font-size="12" fill="#000">powder</text>
<text transform="translate(69.8,303.4) scale(1.04,1)" font-family="Liberation Sans, sans-serif" font-size="17.6" fill="#000">HP</text><text x="100.2" y="308.4" font-family="Liberation Sans, sans-serif" font-size="12" fill="#000">powder</text>
<text transform="translate(69.0,409.6) scale(1.04,1)" font-family="Liberation Sans, sans-serif" font-size="17.6" fill="#000">CAP</text><text x="109.9" y="414.6" font-family="Liberation Sans, sans-serif" font-size="12" fill="#000">powder</text>
<text x="175.2" y="102.8" font-family="Liberation Sans, sans-serif" font-size="16.3" fill="#000">O-H</text>
<text x="164.9" y="483.0" font-family="Liberation Sans, sans-serif" font-size="16.9" fill="#000">O-H</text>
<text x="363.4" y="125.1" font-family="Liberation Sans, sans-serif" font-size="16" fill="#000">C=O ester</text>
<text x="372.5" y="470.3" font-family="Liberation Sans, sans-serif" font-size="16" fill="#000">C=O ester</text>
<text x="451.8" y="129.8" font-family="Liberation Sans, sans-serif" font-size="16" fill="#000">COO<tspan font-size="10" dx="1.2" dy="-7">-</tspan></text>
<text x="472.5" y="470.7" font-family="Liberation Sans, sans-serif" font-size="16" fill="#000">COO<tspan font-size="10" dx="1.2" dy="-7">-</tspan></text>
<text x="557.8" y="160.1" font-family="Liberation Sans, sans-serif" font-size="16.4" fill="#000">C–O</text>
<text x="558.9" y="455.0" font-family="Liberation Sans, sans-serif" font-size="16.4" fill="#000">C–O</text>
<line x1="450.4" y1="80.9" x2="438.5" y2="99.5" stroke="#111" stroke-width="1.0" stroke-dasharray="2,0.9"/><polygon points="432,108.5 435.9,97.6 441.6,101.1" fill="#000"/>
<line x1="472.3" y1="75.7" x2="475.3" y2="106" stroke="#111" stroke-width="1.1" stroke-dasharray="4.2,2.2"/><polygon points="475.7,117.8 472.4,106 478.6,106" fill="#000"/>
<line x1="449.2" y1="432.8" x2="442" y2="446" stroke="#111" stroke-width="1.0" stroke-dasharray="2,0.9"/><polygon points="436.1,455.1 439.2,444.6 444.9,447.2" fill="#000"/>
<line x1="469.6" y1="407.9" x2="481.6" y2="435.2" stroke="#111" stroke-width="1.0" stroke-dasharray="2,0.9"/><polygon points="485.6,446.1 478.7,436 484.6,434.3" fill="#000"/>
</svg>
</body></html>
